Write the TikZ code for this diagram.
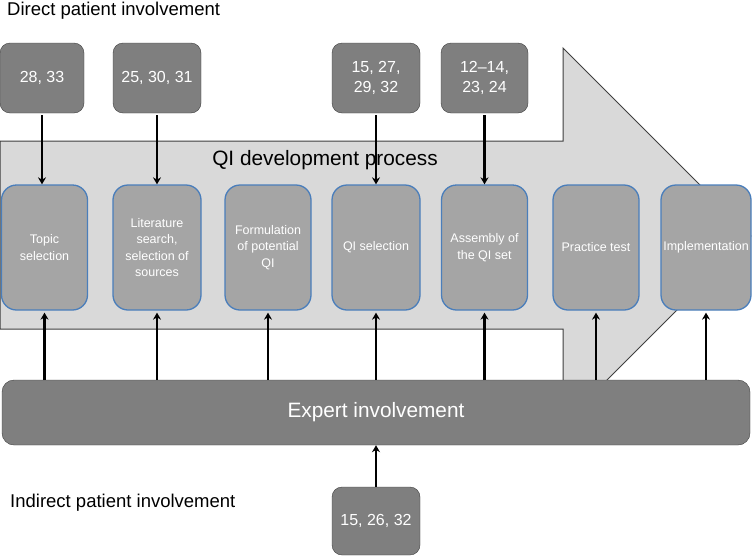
\documentclass[tikz,border=0pt]{standalone}
\usepackage{fontspec}
\setmainfont{Liberation Sans}
\usepackage{xcolor}
\usepackage{tikz}
\usetikzlibrary{arrows.meta, positioning}

\definecolor{darkbox}{HTML}{7F7F7F}
\definecolor{darkline}{HTML}{3F3F3F}
\definecolor{stepfill}{HTML}{A5A5A5}
\definecolor{stepline}{HTML}{4A7EBB}
\definecolor{arrowfill}{HTML}{D9D9D9}

\begin{document}
\begin{tikzpicture}[x=1pt, y=-1pt,
            refbox/.style={draw=darkline, fill=darkbox, rounded corners=10pt, text=white,
                font=\fontsize{16}{19.2}\selectfont, align=center,
                minimum width=88pt, minimum height=70pt, inner sep=0pt},
            stepbox/.style={draw=stepline, line width=1.3pt, fill=stepfill, rounded corners=15pt,
                text=white, font=\fontsize{12.5}{16.5}\selectfont, align=center,
                minimum width=86pt, minimum height=125pt, inner sep=0pt},
            heading/.style={font=\fontsize{18.5}{22}\selectfont, inner sep=0pt},
            link/.style={-{Stealth[length=7pt, width=8pt]}, line width=2.2pt}
        ]

        \useasboundingbox (0,0) rectangle (752,557);

        % Process arrow (background)
        \draw[fill=arrowfill, draw=darkline, line width=1pt]
            (0,141) -- (563,141) -- (563,48) -- (751,236) -- (563,424) -- (563,329) -- (0,329) -- cycle;
        \node[font=\fontsize{20.8}{24}\selectfont, inner sep=0pt] (process) at (325,160) {QI development process};

        % Expert bar
        \node[draw=darkline, fill=darkbox, rounded corners=12pt, text=white, minimum width=748pt,
            minimum height=65pt, inner sep=0pt, font=\fontsize{20.8}{24}\selectfont] (expert) at (376,412.5) {Expert involvement};

        % Steps (manual layout to match figure)
        \node[stepbox] (topic) at (44.5,247.5) {Topic\\selection};
        \node[stepbox, minimum width=88pt] (lit) at (157,247.5) {Literature\\search,\\selection of\\sources};
        \node[stepbox] (form) at (268,247.5) {Formulation\\of potential\\QI};
        \node[stepbox, minimum width=88pt] (sel) at (376,247.5) {QI selection};
        \node[stepbox] (assembly) at (484.5,247.5) {Assembly of\\the QI set};
        \node[stepbox] (practice) at (596,247.5) {Practice test};
        \node[stepbox, minimum width=90pt] (impl) at (706,247.5) {Implementation};

        % Direct patient involvement
        \node[heading, anchor=base west] (direct) at (7,15) {Direct patient involvement};
        \node[refbox, minimum width=84pt] (d1) at (42,78) {28, 33};
        \node[refbox] (d2) at (157,78) {25, 30, 31};
        \node[refbox] (d3) at (376,78) {15, 27,\\29, 32};
        \node[refbox, minimum width=87pt] (d4) at (484.5,78) {12--14,\\23, 24};

        % Indirect patient involvement
        \node[heading, anchor=base west] (indirect) at (10,507) {Indirect patient involvement};
        \node[refbox, minimum height=68pt] (ind) at (376,521) {15, 26, 32};

        % Arrows
        \draw[link, shorten <=2pt] (d1.south) -- (d1.south |- topic.north);
        \draw[link, shorten <=2pt] (d2.south) -- (d2.south |- lit.north);
        \draw[link, shorten <=2pt] (d3.south) -- (d3.south |- sel.north);
        \draw[link, shorten <=2pt] (d4.south) -- (d4.south |- assembly.north);

        \draw[link, shorten >=2pt] (expert.north -| topic) -- (topic.south);
        \draw[link, shorten >=2pt] (expert.north -| lit) -- (lit.south);
        \draw[link, shorten >=2pt] (expert.north -| form) -- (form.south);
        \draw[link, shorten >=2pt] (expert.north -| sel) -- (sel.south);
        \draw[link, shorten >=2pt] (expert.north -| assembly) -- (assembly.south);
        \draw[link, shorten >=2pt] (expert.north -| practice) -- (practice.south);
        \draw[link, shorten >=2pt] (expert.north -| impl) -- (impl.south);

        \draw[link] (ind.north) -- (expert.south);

    \end{tikzpicture}
\end{document}
